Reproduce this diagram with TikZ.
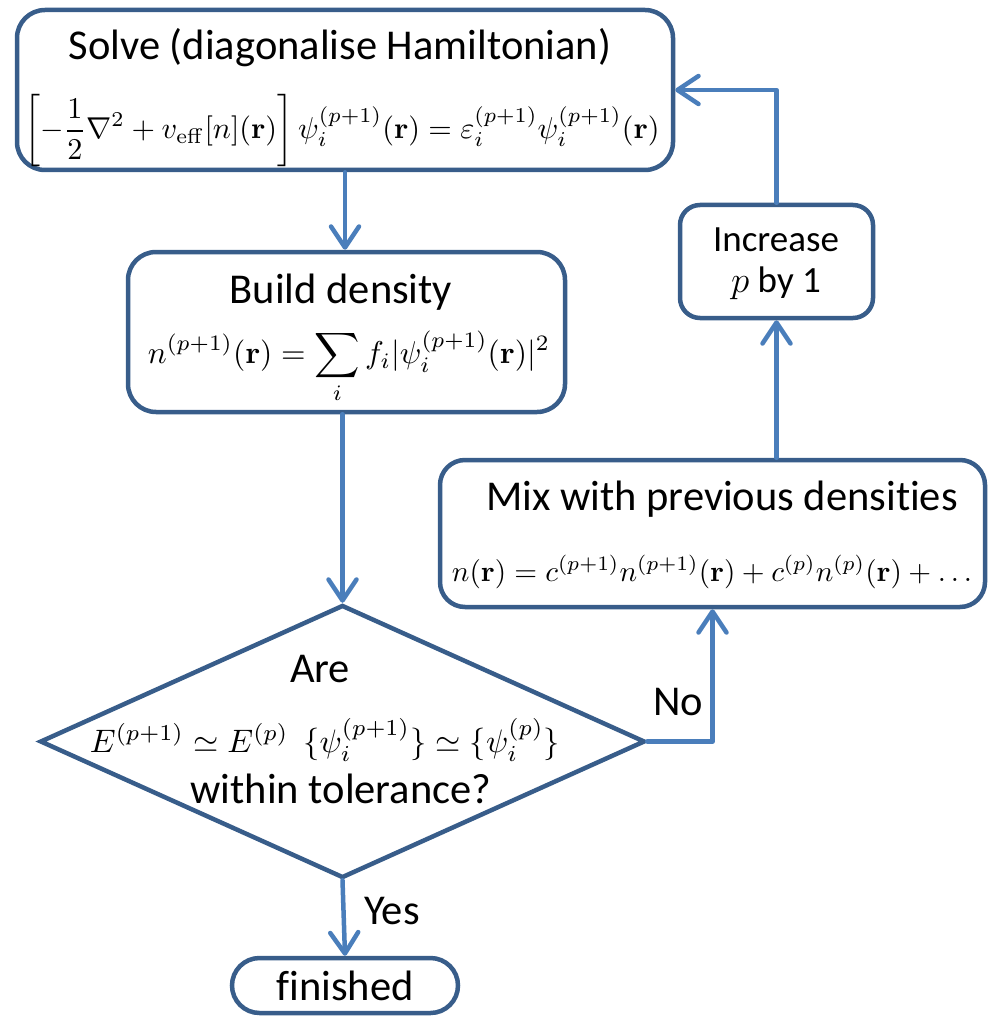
\documentclass[tikz,border=0pt]{standalone}
\usepackage{fix-cm}
\usepackage{amsmath,graphicx}
\usepackage[no-math]{fontspec}
\setmainfont{Carlito}[Ligatures=NoCommon]
\usetikzlibrary{arrows.meta,shapes.geometric,calc}
\definecolor{boxblue}{HTML}{385D8A}
\definecolor{arrblue}{HTML}{4A7EBB}
\begin{document}
\begin{tikzpicture}[x=1pt,y=-1pt,
  box/.style={draw=boxblue, line width=4.5pt, rounded corners=28pt, fill=white, inner sep=0pt},
  arr/.style={draw=arrblue, line width=4.5pt, line cap=round, line join=round,
    -{Straight Barb[length=21pt,width=28pt,round]}},
  big/.style={font=\fontsize{42.5}{50}\selectfont, inner sep=0pt},
  mid/.style={font=\fontsize{37}{44}\selectfont, inner sep=0pt},
  eq/.style={inner sep=0pt}]
\useasboundingbox (0,0) rectangle (988,1016);

% boxes
\node[box, minimum width=656pt, minimum height=160pt] (solve) at (345,90) {};
\node[box, minimum width=437pt, minimum height=160pt] (build) at (346.5,332) {};
\node[draw=boxblue, line width=4.5pt, diamond, minimum width=605pt, minimum height=273pt, inner sep=0pt, fill=white] (dec) at (342.5,741.5) {};
\node[box, rounded corners=27.5pt, minimum width=226pt, minimum height=55pt] (fin) at (345,985.5) {};
\node[box, rounded corners=25pt, minimum width=545pt, minimum height=147pt] (mix) at (712.5,533.5) {};
\node[box, rounded corners=20pt, minimum width=193pt, minimum height=113pt] (inc) at (776.5,261.5) {};

% texts
\node[big] (solvet) at (340,48) {Solve (diagonalise Hamiltonian)};
\node[eq] (solvee) at (342,131) {\resizebox{635pt}{!}{$\displaystyle\left[-\frac{1}{2}\nabla^2+v_{\mathrm{eff}}[n](\mathbf{r})\right]\psi_i^{(p+1)}(\mathbf{r})=\varepsilon_i^{(p+1)}\psi_i^{(p+1)}(\mathbf{r})$}};
\node[big] (buildt) at (341,292) {Build density};
\node[eq] (builde) at (349,367) {\resizebox{402pt}{!}{$\displaystyle n^{(p+1)}(\mathbf{r})=\sum_i f_i|\psi_i^{(p+1)}(\mathbf{r})|^2$}};
\node[big] (mixt) at (722,499) {Mix with previous densities};
\node[eq] (mixe) at (712,572) {\resizebox{520pt}{!}{$n(\mathbf{r})=c^{(p+1)}n^{(p+1)}(\mathbf{r})+c^{(p)}n^{(p)}(\mathbf{r})+\ldots$}};
\node[mid] (inct) at (776,240) {Increase};
\node[mid] (incp) at (776,283) {$p$ by 1};
\node[big] (are) at (320,669) {Are};
\node[eq] (dece) at (325,740) {\resizebox{470pt}{!}{$E^{(p+1)}\simeq E^{(p)}\ \ \{\psi_i^{(p+1)}\}\simeq\{\psi_i^{(p)}\}$}};
\node[big] (tol) at (341,789) {within tolerance?};
\node[big] (fint) at (345,986) {finished};

% connectors
\draw[arr] (solve.south) -- (solve.south |- build.north);
\draw[arr] (build.south -| dec.north) -- (dec.north);
\draw[arr] (dec.south) -- (fin.north);
\node[big] (yes) at (392,911) {Yes};
\draw[arr] (dec.east) -| (mix.south);
\node[big] (no) at (678,702) {No};
\draw[arr] (mix.north -| inc.south) -- (inc.south);
\draw[arr] (inc.north) |- (solve.east);
\end{tikzpicture}
\end{document}
